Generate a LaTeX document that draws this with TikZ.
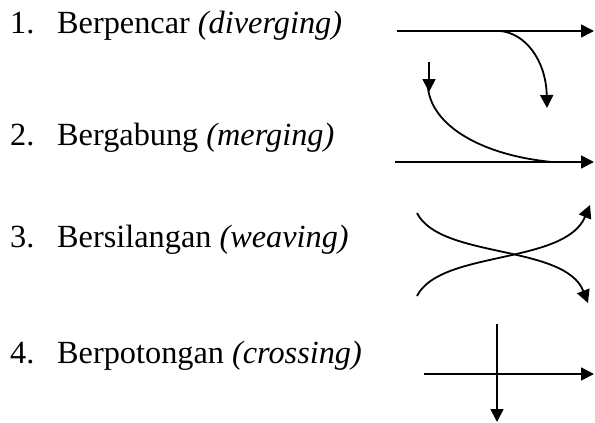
\documentclass[tikz,border=0pt]{standalone}
\usepackage{fontspec}
\setmainfont{Liberation Serif}
\usetikzlibrary{arrows.meta}
\tikzset{
  lab/.style={anchor=base west,inner sep=0pt},
  flow/.style={line width=1.8pt,-{Triangle[length=13pt,width=13pt]}},
  plain/.style={line width=1.8pt}
}
\begin{document}
\begin{tikzpicture}[x=1pt,y=-1pt,font=\fontsize{32.3}{38}\selectfont]
\useasboundingbox (0,0) rectangle (595,423);
\node[lab] (n1) at (10,34) {1.};
\node[lab] (t1) at (57,34) {Berpencar \textit{(diverging)}};
\node[lab] (n2) at (10,145) {2.};
\node[lab] (t2) at (57,145) {Bergabung \textit{(merging)}};
\node[lab] (n3) at (10,247) {3.};
\node[lab] (t3) at (57,247) {Bersilangan \textit{(weaving)}};
\node[lab] (n4) at (10,363) {4.};
\node[lab] (t4) at (57,363) {Berpotongan \textit{(crossing)}};
\coordinate (a1) at (397,31);
\coordinate (b1) at (594,31);
\coordinate (c1) at (500,31);
\coordinate (d1) at (547,108);
\draw[flow] (a1) -- (b1);
\draw[flow] (c1) .. controls (525,33) and (546,60) .. (d1);
\coordinate (a2) at (429,62);
\coordinate (b2) at (429,92);
\coordinate (c2) at (428,88);
\coordinate (d2) at (552,162);
\coordinate (e2) at (395,162);
\coordinate (f2) at (594,162);
\draw[flow] (a2) -- (b2);
\draw[plain] (c2) .. controls (432,125) and (480,155) .. (d2);
\draw[flow] (e2) -- (f2);
\coordinate (a3) at (417,213);
\coordinate (b3) at (588,303);
\coordinate (c3) at (417,296);
\coordinate (d3) at (590,205);
\draw[flow] (a3) .. controls (440,259) and (565,244) .. (b3);
\draw[flow] (c3) .. controls (440,250) and (565,265) .. (d3);
\coordinate (a4) at (424,374);
\coordinate (b4) at (594,374);
\coordinate (c4) at (497,324);
\coordinate (d4) at (497,422);
\draw[flow] (a4) -- (b4);
\draw[flow] (c4) -- (d4);
\end{tikzpicture}
\end{document}
